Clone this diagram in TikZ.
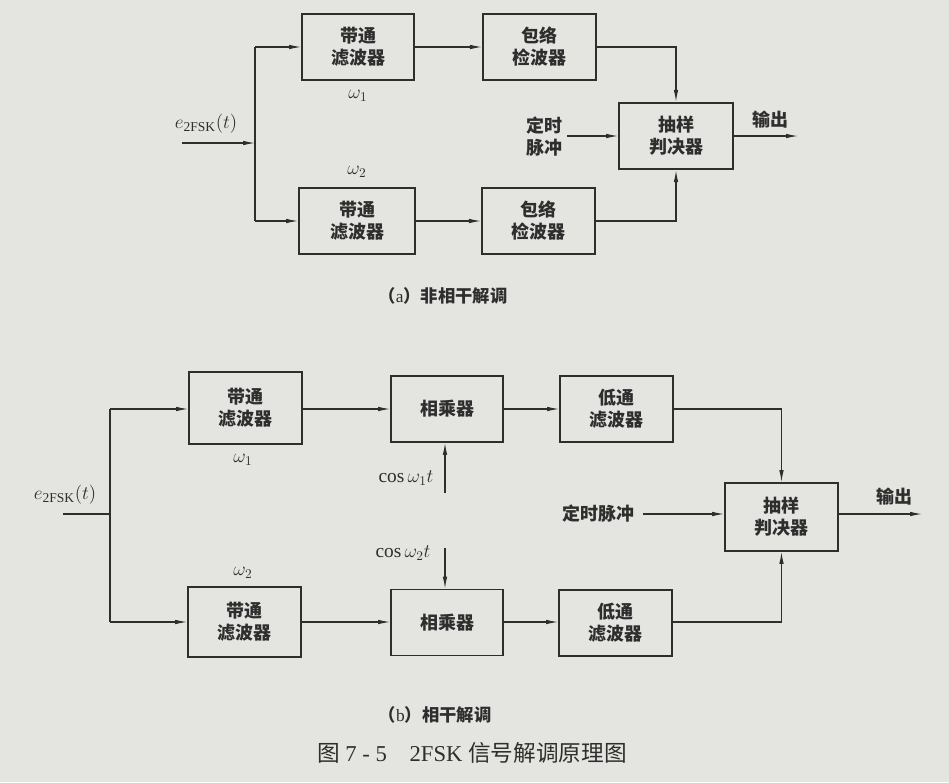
\documentclass[tikz,border=0pt]{standalone}
\usepackage{fontspec}
\setmainfont{Liberation Serif}
\newfontfamily\cjk{Noto Sans CJK SC}
\usetikzlibrary{arrows.meta}
\definecolor{bg}{HTML}{E4E4E0}
\definecolor{ink}{HTML}{2E2E2E}
\tikzset{
  x=0.75pt, y=-0.75pt,
  blk/.style={draw=ink, line width=1.3pt, minimum width=#1, minimum height=49.5pt,
     inner sep=0pt, align=center, font=\cjk\bfseries\fontsize{13.5}{16.5}\selectfont, text=ink},
  blk/.default=84pt,
  lbl/.style={text=ink, inner sep=0pt, font=\cjk\bfseries\fontsize{13.5}{16.5}\selectfont, align=center},
  mlbl/.style={text=ink, inner sep=0pt, font=\fontsize{14.5}{17}\selectfont},
  captxt/.style={text=ink, inner sep=0pt, font=\cjk\bfseries\fontsize{13}{15}\selectfont},
  conn/.style={draw=ink, line width=0.8pt},
  arr/.style={conn, -{Latex[length=9pt,width=3.4pt]}},
}
\begin{document}
\begin{tikzpicture}
\fill[bg] (0,0) rectangle (949,782);
\useasboundingbox (0,0) rectangle (949,782);

% ---------------- (a) non-coherent ----------------
\node[blk=84pt]  (bpfA1) at (358,47)  {带通\\滤波器};
\node[blk=87pt]  (bpfA2) at (357,221) {带通\\滤波器};
\node[blk=85pt]  (edA1)  at (539.5,47)  {包络\\检波器};
\node[blk=85pt]  (edA2)  at (538.5,221) {包络\\检波器};
\node[blk=85.5pt, minimum height=50pt] (sampA) at (676,136) {抽样\\判决器};

\coordinate (inA) at (182,143);
\coordinate (jA)  at (255,143);
\coordinate (tA)  at (567,136);
\coordinate (outA) at (798,136);

\node[mlbl] (eA) at (206,124) {$e_{\mathrm{2FSK}}(t)$};
\node[mlbl] (w1A) at (358,96) {$\omega_1$};
\node[mlbl] (w2A) at (357,172) {$\omega_2$};
\node[lbl] (timA) at (544,137) {定时\\脉冲};
\node[lbl] (oA) at (770,120) {输出};

\draw[arr] (inA) -- (jA);
\draw[conn] (jA |- bpfA1) -- (jA |- bpfA2);
\draw[arr] (jA |- bpfA1) -- (bpfA1.west);
\draw[arr] (jA |- bpfA2) -- (bpfA2.west);
\draw[arr] (bpfA1.east) -- (edA1.west);
\draw[arr] (bpfA2.east) -- (edA2.west);
\draw[arr] (edA1.east) -| (sampA.north);
\draw[arr] (edA2.east) -| (sampA.south);
\draw[arr] (tA) -- (sampA.west);
\draw[arr] (sampA.east) -- (outA);

\node[captxt] (capA) at (443,296) {（{\rmfamily\mdseries a}）非相干解调};

% ---------------- (b) coherent ----------------
\node[blk=84.75pt, minimum height=54pt] (bpfB1) at (245.5,408) {带通\\滤波器};
\node[blk=84.75pt, minimum height=53pt] (bpfB2) at (244.5,622) {带通\\滤波器};
\node[blk=84pt]  (mulB1) at (447,409) {相乘器};
\node[blk=84pt]  (mulB2) at (447,622.5) {相乘器};
\node[blk=84.75pt] (lpfB1) at (616.5,409) {低通\\滤波器};
\node[blk=84.75pt] (lpfB2) at (615.5,623) {低通\\滤波器};
\node[blk=84.75pt, minimum height=51pt] (sampB) at (781.5,517) {抽样\\判决器};

\coordinate (inB) at (63,514);
\coordinate (jB)  at (110,514);
\coordinate (c1)  at (445,493);
\coordinate (c2)  at (445,548);
\coordinate (tB)  at (643,514);
\coordinate (outB) at (922,514);

\node[mlbl] (eB) at (65,495) {$e_{\mathrm{2FSK}}(t)$};
\node[mlbl] (w1B) at (243,460) {$\omega_1$};
\node[mlbl] (w2B) at (243,573) {$\omega_2$};
\node[mlbl] (cos1) at (406,478) {$\cos\omega_1 t$};
\node[mlbl] (cos2) at (403,553) {$\cos\omega_2 t$};
\node[lbl] (timB) at (598,514) {定时脉冲};
\node[lbl] (oB) at (894,497) {输出};

\draw[conn] (inB) -- (jB);
\draw[conn] (jB |- 0,409) -- (jB |- 0,622);
\draw[arr] (jB |- 0,409) -- (bpfB1.west |- 0,409);
\draw[arr] (jB |- 0,622) -- (bpfB2.west |- 0,622);
\draw[arr] (bpfB1.east |- mulB1) -- (mulB1.west);
\draw[arr] (bpfB2.east |- 0,622) -- (mulB2.west |- 0,622);
\draw[arr] (mulB1.east) -- (lpfB1.west);
\draw[arr] (mulB2.east |- 0,622) -- (lpfB2.west |- 0,622);
\draw[arr] (c1) -- (c1 |- mulB1.south);
\draw[arr] (c2) -- (c2 |- mulB2.north);
\draw[arr] (lpfB1.east) -| (sampB.north);
\draw[arr] (lpfB2.east |- 0,622) -| (sampB.south);
\draw[arr] (tB) -- (sampB.west |- tB);
\draw[arr] (sampB.east |- tB) -- (outB);

\node[captxt] (capB) at (435,715) {（{\rmfamily\mdseries b}）相干解调};
\node[text=ink, inner sep=0pt, font=\fontsize{17}{19}\selectfont] (fig) at (472,753) {{\cjk 图} 7 - 5\quad 2FSK {\cjk 信号解调原理图}};
\end{tikzpicture}
\end{document}
